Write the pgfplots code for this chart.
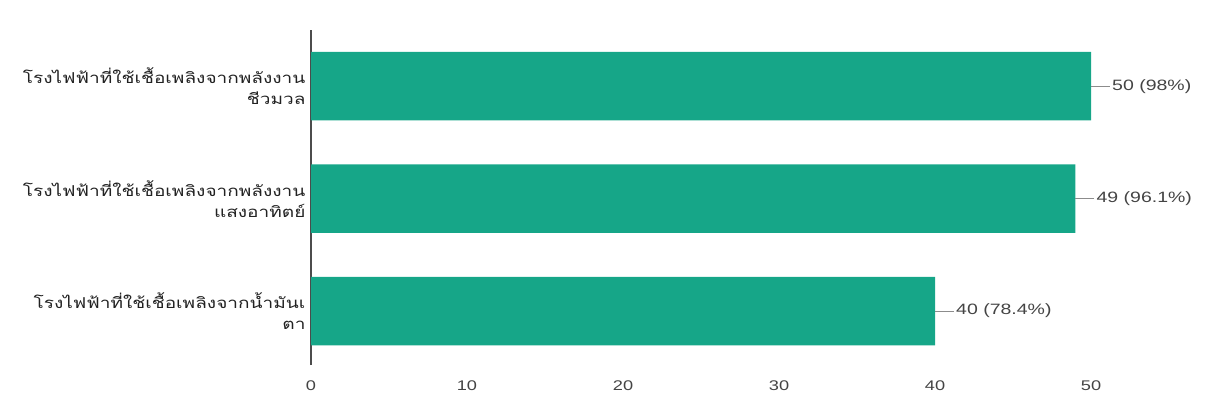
\documentclass[border=0pt]{standalone}
\usepackage{pgfplots}
\pgfplotsset{compat=1.18}
\usepackage{fontspec}
\setmainfont{Liberation Sans}[FakeStretch=1.3]
\newfontfamily\thaifont[Script=Thai,FakeStretch=1.27]{Loma}
\definecolor{barteal}{RGB}{22,166,136}
\definecolor{txtgrey}{RGB}{68,68,68}
\definecolor{lblgrey}{RGB}{34,34,34}
\begin{document}
\begin{tikzpicture}
\path[use as bounding box] (0,0) rectangle (1208bp,405bp);
\begin{axis}[
  at={(311bp,40bp)}, anchor=south west,
  scale only axis, width=780bp, height=335bp,
  xbar, bar width=0.61,
  xmin=0, xmax=50, ymin=-0.48, ymax=2.5,
  axis x line*=bottom, axis y line*=left,
  x axis line style={draw=none},
  y axis line style={draw=black!70, line width=1.2bp},
  xtick={0,10,20,30,40,50},
  ytick={0,1,2},
  yticklabels={{โรงไฟฟ้าที่ใช้เชื้อเพลิงจากน้ำมันเ\\ตา},{โรงไฟฟ้าที่ใช้เชื้อเพลิงจากพลังงาน\\แสงอาทิตย์},{โรงไฟฟ้าที่ใช้เชื้อเพลิงจากพลังงาน\\ชีวมวล}},
  yticklabel style={font=\thaifont\fontsize{15bp}{21bp}\selectfont, align=right, text=lblgrey, xshift=-2bp},
  xticklabel style={font=\fontsize{14bp}{16bp}\selectfont, text=txtgrey, yshift=-12bp},
  /pgf/number format/assume math mode=true,
  major tick length=0pt,
  clip=false,
  point meta=explicit symbolic,
  nodes near coords,
  every node near coord/.append style={anchor=west, xshift=21bp, font=\fontsize{15bp}{17bp}\selectfont, text=txtgrey, inner sep=0pt},
]
\addplot[draw=none, fill=barteal,
  error bars/.cd, x dir=plus, x explicit, error bar style={draw=black!45, line width=0.8bp}, error mark=none]
  coordinates {
  (50,2) +- (1.2,0) [50 (98\%)]
  (49,1) +- (1.2,0) [49 (96.1\%)]
  (40,0) +- (1.2,0) [40 (78.4\%)]
};
\end{axis}
\end{tikzpicture}
\end{document}
